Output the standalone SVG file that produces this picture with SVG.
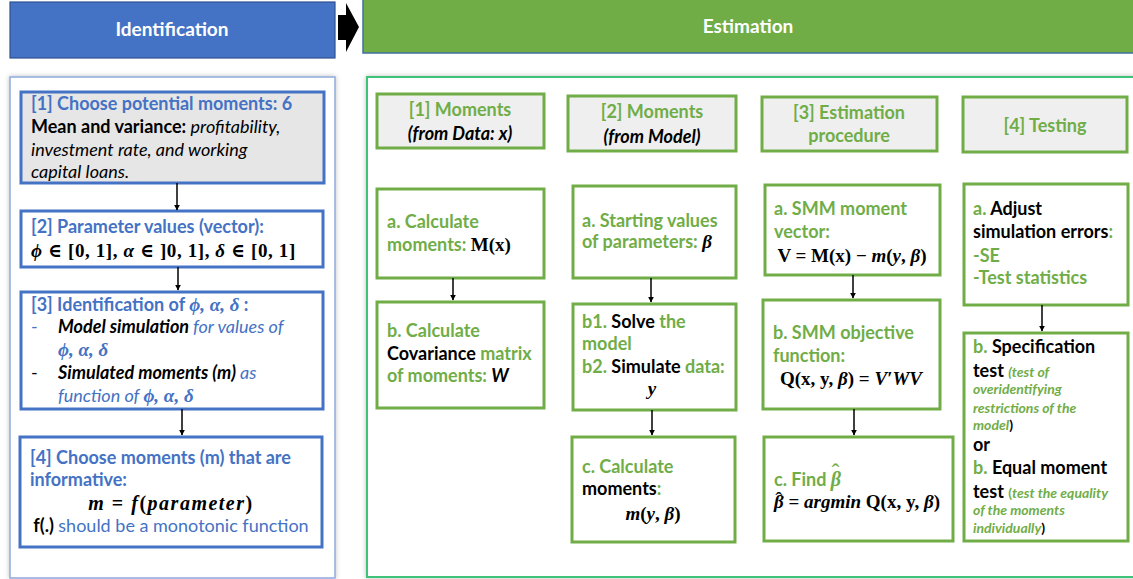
<svg xmlns="http://www.w3.org/2000/svg" width="1133" height="579" viewBox="0 0 1133 579">
<defs>
<style>
.t{font-family:Lato,"Open Sans","Liberation Sans",sans-serif;font-size:18px;font-weight:bold}
.s{font-family:Lato,"Open Sans","Liberation Sans",sans-serif;font-size:14px;font-weight:bold;font-style:italic}
.m{font-family:"Liberation Serif","DejaVu Serif",serif;font-size:19px;font-weight:bold;font-style:italic}
.hat{font-family:"Liberation Serif","DejaVu Serif",serif;font-size:24px;font-weight:normal;font-style:normal}
.u{font-style:normal}
.n{font-weight:normal}
.i{font-style:italic}
.b{fill:#4472C4}
.g{fill:#70AD47}
.k{fill:#000}
.w{fill:#fff}
.lb{fill:#fff;stroke:#4472C4;stroke-width:3}
.rb{fill:#fff;stroke:#70AD47;stroke-width:3}
.hb{fill:#EFEFEF;stroke:#70AD47;stroke-width:3}
.c{stroke:#000;stroke-width:1.5;fill:none;marker-end:url(#ah)}
.ba{fill:#000}
</style>
<marker id="ah" viewBox="0 0 10 10" refX="9" refY="5" markerWidth="6" markerHeight="6" orient="auto" markerUnits="userSpaceOnUse"><path d="M0,0 L10,5 L0,10 z" fill="#000"/></marker>
<filter id="sh" x="-5%" y="-5%" width="110%" height="110%"><feDropShadow dx="0" dy="0" stdDeviation="2.5" flood-color="#000" flood-opacity="0.25"/></filter>
</defs>

<g id="hdr-identification">
<rect x="10" y="2" width="325" height="56" fill="#4472C4" stroke="#2F528F" stroke-width="1.2"/>
<text x="172" y="36" text-anchor="middle" class="t w" style="font-size:19px">Identification</text>
</g>
<g id="hdr-estimation">
<rect x="363" y="-1" width="772" height="54" fill="#70AD47" stroke="#41719C" stroke-width="1.5"/>
<text x="748" y="33" text-anchor="middle" class="t w" style="font-size:19px">Estimation</text>
</g>
<g id="big-arrows">
<polygon class="ba" points="338,15 346,15 346,3 359,27 346,52 346,40 338,40"/>
<polygon class="ba" points="547,108 556,108 556,98 567,122 556,146 556,136 547,136"/>
<polygon class="ba" points="738,108 747,108 747,98 758,122 747,146 747,136 738,136"/>
<polygon class="ba" points="941,108 950,108 950,99 961,123 950,148 950,138 941,138"/>
</g>

<g id="panel-identification">
<rect x="10" y="77" width="325" height="501" fill="#fff" stroke="#8FAADC" stroke-width="1.5" filter="url(#sh)"/>
</g>
<g id="panel-estimation">
<rect x="367" y="77" width="770" height="500" fill="#fff" stroke="#3FC377" stroke-width="2" filter="url(#sh)"/>
</g>

<g id="id1">
<rect x="21" y="92" width="303" height="91" fill="#E7E6E6" stroke="#4472C4" stroke-width="3"/>
<text x="31" y="110" class="t b">[1] Choose potential moments: 6</text>
<text x="31" y="133" class="t k">Mean and variance: <tspan class="n i">profitability,</tspan></text>
<text x="31" y="156" class="t k n i">investment rate, and working</text>
<text x="31" y="178" class="t k n i">capital loans.</text>
</g>
<g id="id2">
<rect x="21" y="211" width="302" height="56" class="lb"/>
<text x="31" y="233" class="t b">[2] Parameter values (vector):</text>
<text x="31" y="257" class="m k" style="letter-spacing:0.6px">ϕ <tspan class="u">∈ [0, 1],</tspan>   α <tspan class="u">∈ ]0, 1],</tspan>   δ <tspan class="u">∈ [0, 1]</tspan></text>
</g>
<g id="id3">
<rect x="21" y="292" width="302" height="117" class="lb"/>
<text x="31" y="311" class="t b">[3] Identification of <tspan class="m">ϕ, α, δ</tspan> :</text>
<text x="31" y="333" class="t b n">-</text>
<text x="58" y="333" class="t k i">Model simulation <tspan class="b n">for values of</tspan></text>
<text x="58" y="356" class="m b">ϕ, α, δ</text>
<text x="31" y="379" class="t k n">-</text>
<text x="58" y="379" class="t k i">Simulated moments (m) <tspan class="b n">as</tspan></text>
<text x="58" y="402" class="t b n i">function of <tspan class="m" style="font-weight:bold">ϕ, α, δ</tspan></text>
</g>
<g id="id4">
<rect x="20" y="437" width="302" height="110" class="lb"/>
<text x="30" y="464" class="t b">[4] Choose moments (m) that are</text>
<text x="30" y="486" class="t b">informative:</text>
<text x="171" y="510" text-anchor="middle" class="m k" style="font-size:20px;letter-spacing:1.5px">m <tspan class="u">=</tspan> f<tspan class="u">(</tspan>parameter<tspan class="u">)</tspan></text>
<text x="171" y="532" text-anchor="middle" class="t k">f(.) <tspan class="b n">should be a monotonic function</tspan></text>
</g>

<g id="h1">
<rect x="377" y="94" width="167" height="54" class="hb"/>
<text x="460" y="116" text-anchor="middle" class="t g">[1] Moments</text>
<text x="460" y="140" text-anchor="middle" class="t k i">(from Data: x)</text>
</g>
<g id="h2">
<rect x="568" y="96" width="168" height="55" class="hb"/>
<text x="652" y="118" text-anchor="middle" class="t g">[2] Moments</text>
<text x="652" y="143" text-anchor="middle" class="t k i">(from Model)</text>
</g>
<g id="h3">
<rect x="762" y="97" width="175" height="54" class="hb"/>
<text x="849" y="119" text-anchor="middle" class="t g">[3] Estimation</text>
<text x="849" y="142" text-anchor="middle" class="t g">procedure</text>
</g>
<g id="h4">
<rect x="963" y="97" width="164" height="55" class="hb"/>
<text x="1045" y="132" text-anchor="middle" class="t g">[4] Testing</text>
</g>

<g id="c1a">
<rect x="377" y="189" width="167" height="89" class="rb"/>
<text x="387" y="228" class="t g">a. Calculate</text>
<text x="387" y="251" class="t g">moments: <tspan class="m k u">M(x)</tspan></text>
</g>
<g id="c1b">
<rect x="377" y="302" width="167" height="106" class="rb"/>
<text x="387" y="337" class="t g">b. Calculate</text>
<text x="387" y="360" class="t k">Covariance <tspan class="g">matrix</tspan></text>
<text x="387" y="382" class="t g">of moments: <tspan class="k i">W</tspan></text>
</g>
<g id="c2a">
<rect x="573" y="186" width="163" height="92" class="rb"/>
<text x="582" y="227" class="t g">a. Starting values</text>
<text x="582" y="248" class="t g">of parameters: <tspan class="m k">β</tspan></text>
</g>
<g id="c2b">
<rect x="573" y="304" width="163" height="106" class="rb"/>
<text x="582" y="328" class="t g">b1. <tspan class="k">Solve</tspan> the</text>
<text x="582" y="350" class="t g">model</text>
<text x="582" y="373" class="t g">b2. <tspan class="k">Simulate</tspan> data:</text>
<text x="652" y="395" text-anchor="middle" class="m k">y</text>
</g>
<g id="c2c">
<rect x="572" y="437" width="163" height="105" class="rb"/>
<text x="582" y="473" class="t g">c. Calculate</text>
<text x="582" y="495" class="t k">moments<tspan class="g">:</tspan></text>
<text x="653" y="520" text-anchor="middle" class="m k">m<tspan class="u">(</tspan>y<tspan class="u">, </tspan>β<tspan class="u">)</tspan></text>
</g>
<g id="c3a">
<rect x="765" y="185" width="175" height="90" class="rb"/>
<text x="774" y="215" class="t g">a.  SMM moment</text>
<text x="774" y="238" class="t g">vector:</text>
<text x="852" y="262" text-anchor="middle" class="m k"><tspan class="u">V = M(x) −  </tspan>m<tspan class="u">(</tspan>y<tspan class="u">, </tspan>β<tspan class="u">)</tspan></text>
</g>
<g id="c3b">
<rect x="763" y="300" width="177" height="109" class="rb"/>
<text x="773" y="339" class="t g">b. SMM objective</text>
<text x="773" y="362" class="t g">function:</text>
<text x="851" y="385" text-anchor="middle" class="m k"><tspan class="u">Q(x, y, </tspan>β<tspan class="u">) = </tspan>V′WV</text>
</g>
<g id="c3c">
<rect x="764" y="437" width="189" height="104" class="rb"/>
<text x="774" y="486" class="t g">c. Find <tspan class="m" style="font-size:20px">β</tspan><tspan class="hat" dx="-9.5" dy="-6">ˆ</tspan></text>
<text x="774" y="508" class="m k">β<tspan class="hat" dx="-8.5" dy="-1" style="font-size:21px">ˆ</tspan><tspan class="u" dx="1.5" dy="1"> =</tspan> argmin <tspan class="u">Q(x, y, </tspan>β<tspan class="u">)</tspan></text>
</g>
<g id="c4a">
<rect x="964" y="184" width="164" height="121" class="rb"/>
<text x="973" y="215" class="t g">a. <tspan class="k">Adjust</tspan></text>
<text x="973" y="238" class="t k">simulation errors<tspan class="g">:</tspan></text>
<text x="973" y="262" class="t g">-SE</text>
<text x="973" y="284" class="t g">-Test statistics</text>
</g>
<g id="c4b">
<rect x="964" y="333" width="164" height="208" class="rb"/>
<text x="973" y="353" class="t g">b. <tspan class="k">Specification</tspan></text>
<text x="973" y="377" class="t k">test <tspan class="s g">(test of</tspan></text>
<text x="973" y="394" class="s g">overidentifying</text>
<text x="973" y="413" class="s g">restrictions of the</text>
<text x="973" y="430" class="s g">model<tspan class="k" style="font-style:normal">)</tspan></text>
<text x="973" y="451" class="t k">or</text>
<text x="973" y="474" class="t g">b. <tspan class="k">Equal moment</tspan></text>
<text x="973" y="498" class="t k">test <tspan class="s g" style="font-style:normal">(</tspan><tspan class="s g">test the equality</tspan></text>
<text x="973" y="515" class="s g">of the moments</text>
<text x="973" y="533" class="s g">individually<tspan class="k" style="font-style:normal">)</tspan></text>
</g>

<g id="connectors">
<line class="c" x1="177" y1="183" x2="177" y2="210"/>
<line class="c" x1="178" y1="267" x2="178" y2="290"/>
<line class="c" x1="182" y1="409" x2="182" y2="435"/>
<line class="c" x1="453" y1="278" x2="453" y2="300"/>
<line class="c" x1="651" y1="278" x2="651" y2="302"/>
<line class="c" x1="652" y1="410" x2="652" y2="435"/>
<line class="c" x1="853" y1="275" x2="853" y2="298"/>
<line class="c" x1="854" y1="409" x2="854" y2="435"/>
<line class="c" x1="1042" y1="305" x2="1042" y2="331"/>
</g>
</svg>
